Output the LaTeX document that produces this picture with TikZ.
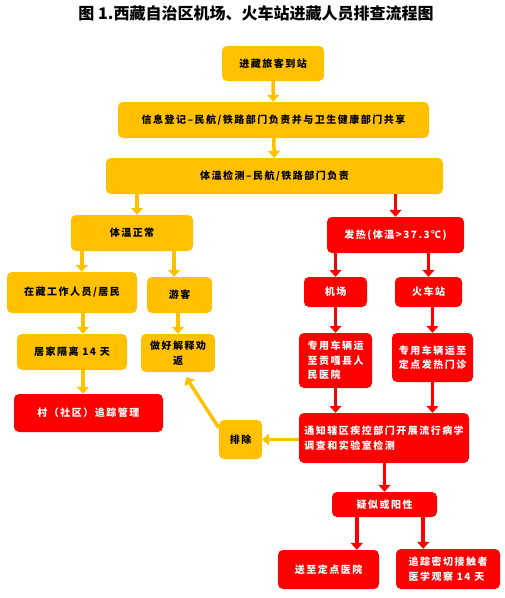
\documentclass[tikz,border=0pt]{standalone}
\usepackage{fontspec}
\newfontfamily\cjk[LetterSpace=15]{Noto Sans CJK SC}
\newfontfamily\cjktitle{Noto Sans CJK SC}
\usetikzlibrary{arrows.meta}
\definecolor{gold}{HTML}{FFC000}
\definecolor{alarm}{HTML}{FF0000}

\begin{document}
\begin{tikzpicture}[x=1pt, y=-1pt]

  % Styles
  \tikzset{
    box/.style={rounded corners=5pt, inner sep=2pt, font=\cjk\bfseries\fontsize{10}{14.5}\selectfont},
    ybox/.style={box, fill=gold, text=black},
    rbox/.style={box, fill=alarm, text=white},
    yarrow/.style={draw=gold, line width=3.5pt, -{Triangle[width=12pt,length=7pt]}},
    rarrow/.style={draw=alarm, line width=3.5pt, -{Triangle[width=12pt,length=7pt]}}
  }

  \useasboundingbox (0,0) rectangle (505,598);

  % --- TITLE ---
  \node[font=\cjktitle\bfseries\fontsize{16}{20}\selectfont] (title) at (256,13)
    {图 1.西藏自治区机场、火车站进藏人员排查流程图};

  % --- COMMON STEPS ---
  \node[ybox, minimum width=102, minimum height=35] (arrive) at (273,63.5) {进藏旅客到站};
  \node[ybox, minimum width=311, minimum height=36] (register) at (273.5,120)
    {信息登记–民航/铁路部门负责并与卫生健康部门共享};
  \node[ybox, minimum width=337, minimum height=36] (temp) at (274.5,176)
    {体温检测–民航/铁路部门负责};

  % --- NORMAL TEMPERATURE BRANCH ---
  \node[ybox, minimum width=122, minimum height=36] (normal) at (132,233) {体温正常};
  \node[ybox, minimum width=130, minimum height=41] (resident) at (72,292.5) {在藏工作人员/居民};
  \node[ybox, minimum width=65, minimum height=36] (tourist) at (179.5,295) {游客};
  \node[ybox, minimum width=110, minimum height=36] (quarantine) at (72,352) {居家隔离 14 天};
  \node[ybox, minimum width=74, minimum height=38, align=center] (persuade) at (178,353)
    {做好解释劝\\返};
  \node[rbox, minimum width=149, minimum height=38] (village) at (88.5,413) {村（社区）追踪管理};

  % --- FEVER BRANCH ---
  \node[rbox, minimum width=137, minimum height=36] (fever) at (395.5,235) {发热(体温>37.3℃)};
  \node[rbox, minimum width=63, minimum height=30] (airport) at (335.5,292) {机场};
  \node[rbox, minimum width=67, minimum height=30] (station) at (428.5,292) {火车站};
  \node[rbox, minimum width=73, minimum height=55, align=left] (gonggar) at (335.5,360.5)
    {专用车辆运\\至贡嘎县人\\民医院};
  \node[rbox, minimum width=81, minimum height=49, align=left] (clinic) at (432.5,357.5)
    {专用车辆运至\\定点发热门诊};
  \node[rbox, minimum width=170, minimum height=50, align=left] (notify) at (384,438)
    {通知辖区疾控部门开展流行病学\\调查和实验室检测};
  \node[ybox, minimum width=43, minimum height=39] (exclude) at (240.5,439.5) {排除};
  \node[rbox, minimum width=105, minimum height=25] (suspect) at (384.5,504.5) {疑似或阳性};
  \node[rbox, minimum width=101, minimum height=39] (hospital) at (328.5,569.5) {送至定点医院};
  \node[rbox, minimum width=104, minimum height=40, align=left] (trace) at (448,569)
    {追踪密切接触者\\医学观察 14 天};

  % --- CONNECTIONS ---
  \draw[yarrow] (arrive) -- (register);
  \draw[yarrow] (register) -- (temp);
  \draw[yarrow] ([xshift=5pt]temp.south -| normal) -- ([xshift=5pt]normal.north);
  \draw[rarrow] (temp.south -| fever) -- (fever.north);

  \draw[yarrow] ([xshift=11pt]normal.south west) -- ([xshift=11pt]normal.south west |- resident.north);
  \draw[yarrow] ([xshift=-19pt]normal.south east) -- ([xshift=-19pt]normal.south east |- tourist.north);
  \draw[yarrow] ([xshift=11pt]resident.south -| quarantine) -- ([xshift=11pt]quarantine.north);
  \draw[yarrow] ([xshift=11pt]quarantine.south) -- ([xshift=11pt]quarantine.south |- village.north);
  \draw[yarrow] (tourist.south -| persuade) -- (persuade.north);

  \draw[rarrow] (fever.south -| airport) -- (airport.north);
  \draw[rarrow] (fever.south -| station) -- (station.north);
  \draw[rarrow] (airport) -- (gonggar);
  \draw[rarrow] (station.south -| clinic) -- (clinic.north);
  \draw[rarrow] (gonggar.south) -- (gonggar.south |- notify.north);
  \draw[rarrow] (clinic.south) -- (clinic.south |- notify.north);

  \draw[yarrow] (notify.west |- exclude) -- (exclude.east);
  \draw[yarrow] ([yshift=-8pt]exclude.north west) -- ([xshift=8pt,yshift=-5pt]persuade.south);

  \draw[rarrow] (notify.south -| suspect) -- (suspect.north);
  \draw[rarrow] ([xshift=25pt]suspect.south west) -- ([xshift=25pt]suspect.south west |- hospital.north);
  \draw[rarrow] ([xshift=-14pt]suspect.south east) -- ([xshift=-14pt]suspect.south east |- trace.north);

\end{tikzpicture}
\end{document}
